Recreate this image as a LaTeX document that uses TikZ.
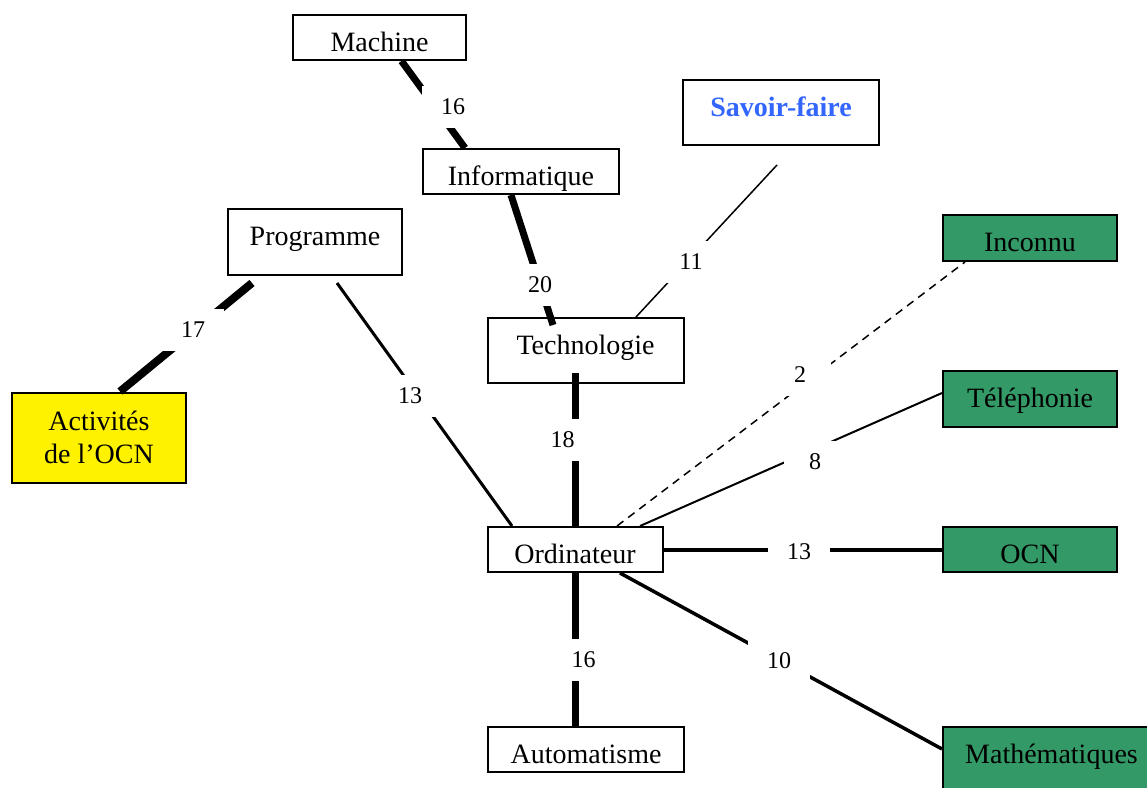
\documentclass[tikz,border=0pt]{standalone}
\usepackage{fontspec}
\setmainfont{Liberation Serif}
\definecolor{conceptgreen}{HTML}{339966}
\definecolor{conceptblue}{HTML}{3366FF}
\tikzset{
  concept/.style={draw=black, line width=2pt, fill=white, inner sep=0pt,
    text height=36.5pt, font=\fontsize{28}{33}\selectfont},
  known/.style={concept, fill=conceptgreen},
  weight/.style={fill=white, inner sep=0pt, minimum width=62pt, minimum height=42pt,
    font=\fontsize{24}{27}\selectfont},
  link/.style={line cap=butt},
}
\begin{document}
\begin{tikzpicture}[x=1pt,y=-1pt]
\useasboundingbox (0,0) rectangle (1147,787);
\clip (0,0) rectangle (1147,787);

% concepts
\node[concept, minimum width=173pt, text depth=8.5pt]  (mach)   at (379.5,37.5)  {Machine};
\node[concept, minimum width=196pt, text depth=8.5pt]  (info)   at (521,171.5)   {Informatique};
\node[concept, minimum width=196pt, text depth=28.5pt, text=conceptblue, font=\fontsize{28}{33}\selectfont\bfseries] (savoir) at (781,112.5) {Savoir-faire};
\node[concept, minimum width=174pt, text depth=29.5pt] (prog)   at (315,242)     {Programme};
\node[concept, fill=yellow, minimum width=174pt, minimum height=90pt, text height=, align=center] (act) at (99,437.5) {Activités\\de l’OCN};
\node[concept, minimum width=196pt, text depth=28.5pt] (tech)   at (585.5,350.5) {Technologie};
\node[concept, minimum width=175pt, text depth=8.5pt]  (ordi)   at (575,549.5)   {Ordinateur};
\node[concept, minimum width=196pt, text depth=8.5pt]  (auto)   at (586,749.5)   {Automatisme};
\node[known, minimum width=174pt, text depth=9.5pt]    (incon)  at (1030,238)    {Inconnu};
\node[known, minimum width=174pt, text depth=19.5pt]   (tel)    at (1030,399)    {Téléphonie};
\node[known, minimum width=174pt, text depth=8.5pt]    (ocnn)   at (1030,549.5)  {OCN};
\node[known, minimum width=217pt, text depth=26.5pt]   (math)   at (1051.5,758.5) {Mathématiques};

% links
\draw[link, line width=7pt] ([xshift=22pt]mach.south) -- ([xshift=-56pt]info.north);
\draw[link, line width=7pt] ([xshift=-10pt]info.south) -- ([xshift=-32.5pt,yshift=-8pt]tech.north);
\draw[link, line width=1.5pt] ([xshift=50.5pt]tech.north) -- ([xshift=-4pt,yshift=-19pt]savoir.south);
\draw[link, line width=8pt] ([xshift=-63pt,yshift=-7pt]prog.south) -- ([xshift=21pt]act.north);
\draw[link, line width=3pt] ([xshift=22pt,yshift=-7pt]prog.south) -- ([xshift=-63pt]ordi.north);
\draw[link, line width=7pt] ([xshift=-10.5pt,yshift=11pt]tech.south) -- (ordi.north);
\draw[link, line width=7pt] (ordi.south) -- ([xshift=-11pt]auto.north);
\draw[link, line width=1.5pt, dash pattern=on 8pt off 6pt] ([xshift=42pt]ordi.north) -- ([xshift=-65pt]incon.south);
\draw[link, line width=2pt] ([xshift=65pt]ordi.north) -- ([yshift=6pt]tel.west);
\draw[link, line width=4pt] (ordi.east) -- (ocnn.west);
\draw[link, line width=3.5pt] ([xshift=45pt]ordi.south) -- ([yshift=9.5pt]math.west);

% weights
\node[weight] (w1)  at (453,106.5) {16};
\node[weight] (w2)  at (540,285)   {20};
\node[weight] (w3)  at (691,262)   {11};
\node[weight] (w4)  at (193,330)   {17};
\node[weight] (w5)  at (410,395.5) {13};
\node[weight] (w6)  at (562.5,440) {18};
\node[weight] (w7)  at (800,375)   {2};
\node[weight] (w8)  at (815,462)   {8};
\node[weight] (w9)  at (799,551.5) {13};
\node[weight] (w10) at (779,661)   {10};
\node[weight] (w11) at (583.5,660) {16};
\end{tikzpicture}
\end{document}
